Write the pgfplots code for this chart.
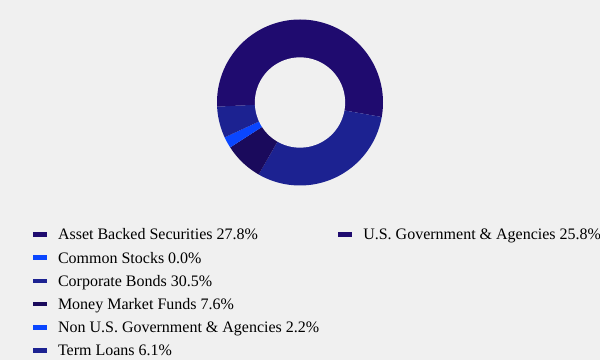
\documentclass[border=0pt]{standalone}
\usepackage{fontspec}
\setmainfont{Liberation Serif}
\usepackage{pgfplots}
\pgfplotsset{compat=1.18}
\definecolor{bgc}{RGB}{240,240,240}
\definecolor{cAsset}{RGB}{31,11,111}
\definecolor{cCommon}{RGB}{10,70,255}
\definecolor{cCorp}{RGB}{28,34,145}
\definecolor{cMM}{RGB}{26,10,92}
\definecolor{cNonUS}{RGB}{10,70,255}
\definecolor{cTerm}{RGB}{28,34,145}
\definecolor{cUS}{RGB}{31,11,111}
% data (percent)
\def\vAsset{27.8}
\def\vCommon{0.0}
\def\vCorp{30.5}
\def\vMM{7.6}
\def\vNonUS{2.2}
\def\vTerm{6.1}
\def\vUS{25.8}
% slice boundaries (degrees, clockwise from top)
\pgfmathsetmacro\aA{90}
\pgfmathsetmacro\aB{\aA-3.6*\vAsset}
\pgfmathsetmacro\aC{\aB-3.6*\vCommon}
\pgfmathsetmacro\aD{\aC-3.6*\vCorp}
\pgfmathsetmacro\aE{\aD-3.6*\vMM}
\pgfmathsetmacro\aF{\aE-3.6*\vNonUS}
\pgfmathsetmacro\aG{\aF-3.6*\vTerm}
\pgfmathsetmacro\aH{\aG-3.6*\vUS}
\begin{document}
\begin{tikzpicture}
\fill[bgc] (0,0) rectangle (450pt,270pt);
\begin{axis}[
  at={(162.75pt,130.875pt)}, anchor=south west,
  scale only axis, width=124.5pt, height=124.5pt,
  xmin=-1, xmax=1, ymin=-1, ymax=1,
  hide axis, clip=false,
  legend columns=6, transpose legend,
  legend cell align=left,
  legend image code/.code={\fill (0pt,-1.7pt) rectangle (10.5pt,1.7pt);},
  legend style={at={(-1.1084,-0.2422)}, anchor=north west,
    draw=none, fill=none, inner sep=0pt, outer sep=0pt,
    font=\fontsize{12}{14}\selectfont,
    row sep=4.2pt, column sep=0pt,
    nodes={inner sep=0pt, outer sep=0pt, text height=10.7pt, text depth=2.5pt},
    /tikz/column 1/.style={column sep=8.25pt},
    /tikz/column 2/.style={column sep=14.25pt},
    /tikz/column 3/.style={column sep=8.25pt}},
  every axis plot/.append style={draw=none, samples=60, variable=\t},
]
\addplot[fill=cAsset, domain=\aB:\aA] ({cos(\t)},{sin(\t)}) -- (0,0) -- cycle;
\addlegendentry{Asset Backed Securities 27.8\%}
\addlegendimage{fill=cCommon, draw=none}
\addlegendentry{Common Stocks 0.0\%}
\addplot[fill=cCorp, domain=\aD:\aC] ({cos(\t)},{sin(\t)}) -- (0,0) -- cycle;
\addlegendentry{Corporate Bonds 30.5\%}
\addplot[fill=cMM, domain=\aE:\aD] ({cos(\t)},{sin(\t)}) -- (0,0) -- cycle;
\addlegendentry{Money Market Funds 7.6\%}
\addplot[fill=cNonUS, domain=\aF:\aE] ({cos(\t)},{sin(\t)}) -- (0,0) -- cycle;
\addlegendentry{Non U.S. Government \& Agencies 2.2\%}
\addplot[fill=cTerm, domain=\aG:\aF] ({cos(\t)},{sin(\t)}) -- (0,0) -- cycle;
\addlegendentry{Term Loans 6.1\%}
\addplot[fill=cUS, domain=\aH:\aG] ({cos(\t)},{sin(\t)}) -- (0,0) -- cycle;
\addlegendentry{U.S. Government \& Agencies 25.8\%}
\addlegendimage{empty legend}\addlegendentry{}
\addlegendimage{empty legend}\addlegendentry{}
\addlegendimage{empty legend}\addlegendentry{}
\addlegendimage{empty legend}\addlegendentry{}
\addlegendimage{empty legend}\addlegendentry{}
\addplot[forget plot, fill=bgc, draw=none, domain=0:360, samples=120] ({0.544*cos(\t)},{0.544*sin(\t)}) -- cycle;
\end{axis}
\pgfresetboundingbox
\useasboundingbox (0,0) rectangle (450pt,270pt);
\end{tikzpicture}
\end{document}
